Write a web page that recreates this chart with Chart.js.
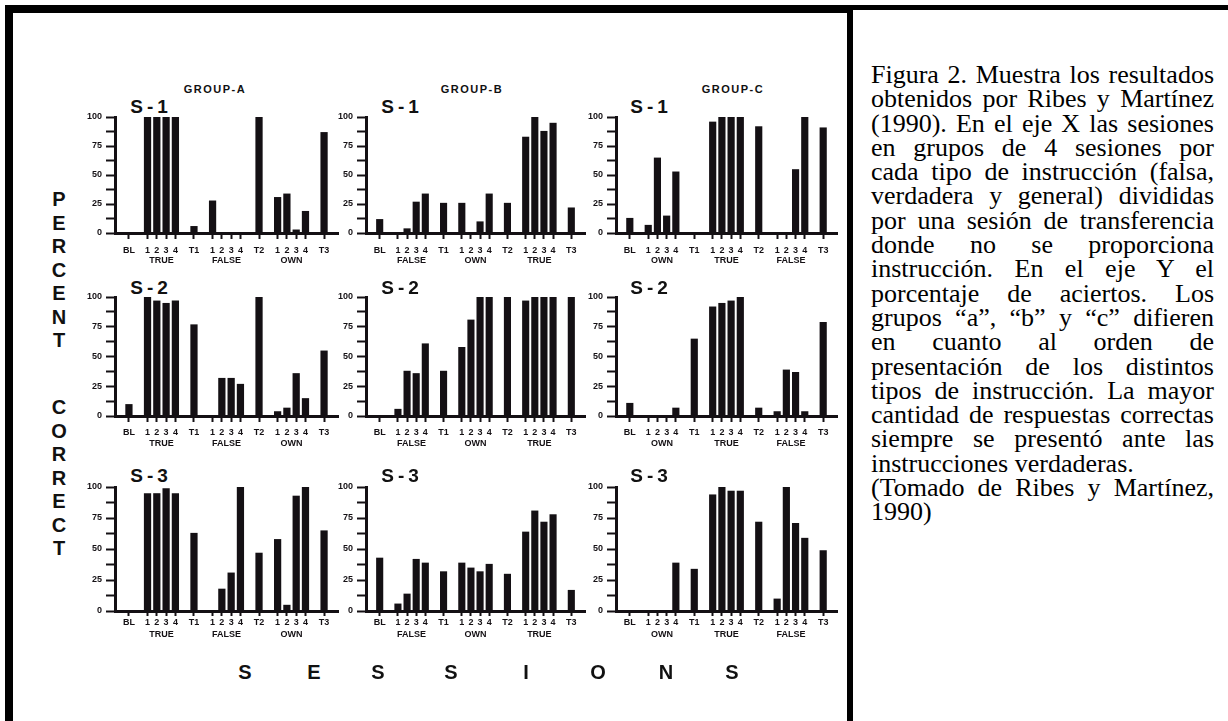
<!DOCTYPE html>
<html lang="es">
<head>
<meta charset="utf-8">
<title>Figura 2</title>
<script src="https://cdn.jsdelivr.net/npm/chart.js@4.4.1/dist/chart.umd.min.js"></script>
<style>
  html, body { margin:0; padding:0; }
  body { width:1228px; height:721px; position:relative; overflow:hidden; background:#fff; }
  .rule { position:absolute; background:#000; }
  canvas { position:absolute; }
  .lbl { position:absolute; transform:translate(-50%,-50%); font-family:"Liberation Sans", Arial, sans-serif;
         font-weight:bold; color:#111; white-space:nowrap; line-height:1; }
  .grp { font-size:11px; letter-spacing:1.5px; }
  .subj { font-size:19px; letter-spacing:4px; }
  .big { font-size:20px; }
  #caption { position:absolute; left:871px; top:63px; width:343px; font-family:"Liberation Serif","Times New Roman",serif;
             font-size:26px; line-height:24.3px; color:#000; }
  #caption div { text-align:justify; text-align-last:justify; white-space:normal; }
  #caption div.last { text-align-last:left; }
</style>
</head>
<body>
<div class="rule" style="left:5px;top:5px;width:848px;height:8px"></div>
<div class="rule" style="left:853px;top:5px;width:375px;height:5px"></div>
<div class="rule" style="left:5px;top:5px;width:8px;height:716px"></div>
<div class="rule" style="left:847px;top:5px;width:6px;height:716px"></div>
<div id="caption"></div>

<script>
// ---- data ----
const groups = ['GROUP-A', 'GROUP-B', 'GROUP-C'];
const subjects = ['S-1', 'S-2', 'S-3'];
// x categories, '' = empty slot between blocks
const xLabels = ['', 'BL', '', '1', '2', '3', '4', '', 'T1', '', '1', '2', '3', '4', '', 'T2', '', '1', '2', '3', '4', '', 'T3', ''];
const yTicks = [0, 25, 50, 75, 100];

const orderA = ['TRUE', 'FALSE', 'OWN'];
const orderB = ['FALSE', 'OWN', 'TRUE'];
const orderC = ['OWN', 'TRUE', 'FALSE'];

// BL, block1 (1-4), T1, block2 (1-4), T2, block3 (1-4), T3
const groupA_S1 = [0, 100, 100, 100, 100, 6, 28, 0, 0, 0, 100, 31, 34, 3, 19, 87];
const groupA_S2 = [10, 100, 97, 95, 97, 77, 0, 32, 32, 27, 100, 4, 7, 36, 15, 55];
const groupA_S3 = [0, 95, 95, 99, 95, 63, 0, 18, 31, 100, 47, 58, 5, 93, 100, 65];
const groupB_S1 = [12, 0, 4, 27, 34, 26, 26, 0, 10, 34, 26, 83, 100, 88, 95, 22];
const groupB_S2 = [0, 6, 38, 36, 61, 38, 58, 81, 100, 100, 100, 97, 100, 100, 100, 100];
const groupB_S3 = [43, 6, 14, 42, 39, 32, 39, 35, 32, 38, 30, 64, 81, 72, 78, 17];
const groupC_S1 = [13, 7, 65, 15, 53, 0, 96, 100, 100, 100, 92, 0, 0, 55, 100, 91];
const groupC_S2 = [11, 0, 0, 0, 7, 65, 92, 95, 97, 100, 7, 4, 39, 37, 4, 79];
const groupC_S3 = [0, 0, 0, 0, 39, 34, 94, 100, 97, 97, 72, 10, 100, 71, 59, 49];

const captionLines = [
  'Figura 2. Muestra los resultados',
  'obtenidos por Ribes y Martínez',
  '(1990). En el eje X las sesiones',
  'en grupos de 4 sesiones por',
  'cada tipo de instrucción (falsa,',
  'verdadera y general) divididas',
  'por una sesión de transferencia',
  'donde no se proporciona',
  'instrucción. En el eje Y el',
  'porcentaje de aciertos. Los',
  'grupos “a”, “b” y “c” difieren',
  'en cuanto al orden de',
  'presentación de los distintos',
  'tipos de instrucción. La mayor',
  'cantidad de respuestas correctas',
  'siempre se presentó ante las',
  'instrucciones verdaderas.',
  '(Tomado de Ribes y Martínez,',
  '1990)'
];

// ---- layout ----
const cols = [
  {axis: 115, end: 338, sx: 151, gx: 215, values: [groupA_S1, groupA_S2, groupA_S3], order: orderA},
  {axis: 366, end: 585, sx: 402, gx: 472, values: [groupB_S1, groupB_S2, groupB_S3], order: orderB},
  {axis: 616, end: 837, sx: 651, gx: 733, values: [groupC_S1, groupC_S2, groupC_S3], order: orderC}
];
const rows = [
  {top: 117, base: 233, tick: 6, pad: 6, grp: 27.5, sy: 106},
  {top: 297, base: 416, tick: 6, pad: 5, grp: 27.5, sy: 287},
  {top: 487, base: 611, tick: 5, pad: 1, grp: 24, sy: 475}
];
const ink = '#141014';
const tickFont = {family: '"Liberation Sans", Arial, sans-serif', weight: 'bold', size: 9};

function label(text, cls, x, y) {
  const d = document.createElement('div');
  d.className = 'lbl ' + cls;
  d.textContent = text;
  d.style.left = x + 'px';
  d.style.top = y + 'px';
  document.body.appendChild(d);
}

// block names under the "1 2 3 4" ticks
const blockStarts = [];
xLabels.forEach((l, i) => { if (l === '1') blockStarts.push(i); });
const blockNames = {
  id: 'blockNames',
  afterDraw(chart, args, opts) {
    const xs = chart.scales.x, ctx = chart.ctx;
    ctx.save();
    ctx.font = 'bold 9px "Liberation Sans", Arial, sans-serif';
    ctx.fillStyle = ink;
    ctx.textAlign = 'center';
    ctx.textBaseline = 'middle';
    const y = chart.chartArea.bottom + opts.offset;
    opts.names.forEach((name, i) => {
      const s = blockStarts[i];
      const x = (xs.getPixelForTick(s + 1) + xs.getPixelForTick(s + 2)) / 2;
      ctx.fillText(name, x, y);
    });
    ctx.restore();
  }
};

function makePanel(col, row, values) {
  const YW = 40, PT = 10, PR = 4, XH = 36;
  const c = document.createElement('canvas');
  c.width = YW + (col.end - col.axis) + PR;
  c.height = PT + (row.base - row.top) + XH;
  c.style.left = (col.axis - YW) + 'px';
  c.style.top = (row.top - PT) + 'px';
  document.body.appendChild(c);

  let k = 0;
  const data = xLabels.map(l => l === '' ? null : values[k++]);

  new Chart(c, {
    type: 'bar',
    data: {
      labels: xLabels,
      datasets: [{data: data, backgroundColor: ink, barPercentage: 0.78, categoryPercentage: 1}]
    },
    options: {
      responsive: false,
      animation: false,
      layout: {padding: {top: PT, right: PR, left: 0, bottom: 0}},
      plugins: {
        legend: {display: false},
        tooltip: {enabled: false},
        blockNames: {names: col.order, offset: row.grp}
      },
      scales: {
        x: {
          type: 'category',
          offset: true,
          grid: {
            drawOnChartArea: false, offset: false, tickLength: row.tick, tickWidth: 2,
            tickColor: ctx => xLabels[ctx.index] ? ink : 'rgba(0,0,0,0)'
          },
          border: {display: true, color: ink, width: 3},
          ticks: {autoSkip: false, maxRotation: 0, minRotation: 0, padding: row.pad, color: ink, font: tickFont},
          afterFit: s => { s.height = XH; s.paddingLeft = 0; s.paddingRight = 0; }
        },
        y: {
          min: 0, max: 100,
          grid: {drawOnChartArea: false, tickLength: 9, tickWidth: 2, tickColor: ink},
          border: {display: true, color: ink, width: 3},
          ticks: {
            stepSize: 12.5, autoSkip: false, padding: 4, color: ink, font: tickFont,
            callback: v => yTicks.includes(v) ? String(v) : ''
          },
          afterFit: s => { s.width = YW; s.paddingTop = 0; s.paddingBottom = 0; }
        }
      }
    },
    plugins: [blockNames]
  });
}

cols.forEach((col, ci) => {
  label(groups[ci], 'grp', col.gx, 89);
  rows.forEach((row, ri) => {
    label(subjects[ri], 'subj', col.sx, row.sy);
    makePanel(col, row, col.values[ri]);
  });
});

// PERCENT CORRECT (vertical) and SESSIONS
const word1 = 'PERCENT', word2 = 'CORRECT';
for (let i = 0; i < 7; i++) {
  label(word1[i], 'big', 59, 199 + i * 23.5);
  label(word2[i], 'big', 59, 407 + i * 23.5);
}
const sessionsWord = 'SESSIONS';
const sessionsX = [245, 314, 378, 451, 526, 598, 666, 732];
for (let i = 0; i < sessionsWord.length; i++) label(sessionsWord[i], 'big', sessionsX[i], 672);

// caption
const cap = document.getElementById('caption');
captionLines.forEach((t, i) => {
  const d = document.createElement('div');
  d.textContent = t;
  if (i === 16 || i === 18) d.className = 'last';
  cap.appendChild(d);
});
</script>
</body>
</html>
